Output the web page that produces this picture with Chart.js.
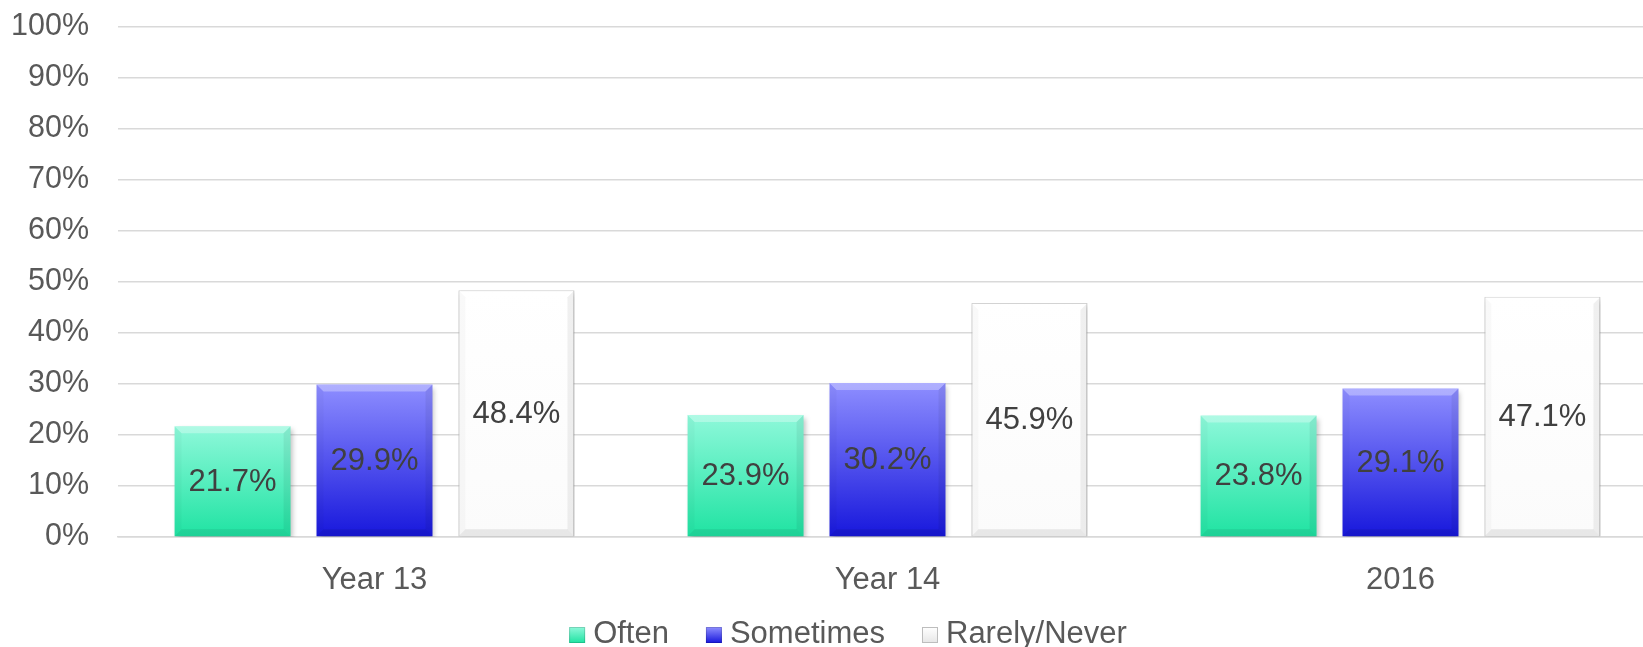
<!DOCTYPE html>
<html>
<head>
<meta charset="utf-8">
<script src="https://cdn.jsdelivr.net/npm/chart.js@4/dist/chart.umd.min.js"></script>
<style>
  html, body { margin: 0; padding: 0; background: #fff; overflow: hidden; }
  #wrap { width: 1643px; height: 647px; overflow: hidden; }
</style>
</head>
<body>
<div id="wrap"><canvas id="chart" width="1696" height="647"></canvas></div>
<script>
// data
var categories = ['Year 13', 'Year 14', '2016'];
var seriesNames = ['Often', 'Sometimes', 'Rarely/Never'];
var often = [21.7, 23.9, 23.8];
var sometimes = [29.9, 30.2, 29.1];
var rarely = [48.4, 45.9, 47.1];
var yMax = 100;
var yStep = 10;

var FONT = "'Liberation Sans', Arial, sans-serif";
var tickGrey = '#595959';
var labelGrey = '#404040';

// top / bottom colours of each series
var fills = [
    ['#8ef8da', '#1fe3a2'],
    ['#8e8eff', '#1717dc'],
    ['#ffffff', '#fbfbfb']
];

// gradient for one bar, from its top down to zero
function barGradient(idx) {
    return function (context) {
        var chart = context.chart;
        if (!chart.chartArea || context.type !== 'data') return fills[idx][1];
        var y = chart.scales.y;
        var y0 = y.getPixelForValue(0);
        var y1 = y.getPixelForValue(context.raw);
        var g = chart.ctx.createLinearGradient(0, y1, 0, y0);
        g.addColorStop(0, fills[idx][0]);
        g.addColorStop(1, fills[idx][1]);
        return g;
    };
}

// bevel, shadow and value labels
var bevelPlugin = {
    id: 'bevel',
    beforeDatasetsDraw: function (chart) {
        var ctx = chart.ctx;
        ctx.save();
        ctx.shadowColor = 'rgba(0,0,0,0.25)';
        ctx.shadowBlur = 5;
        ctx.shadowOffsetX = 2;
        ctx.shadowOffsetY = 3;
    },
    afterDatasetsDraw: function (chart) {
        var ctx = chart.ctx;
        ctx.restore();
        var b = 7;
        chart.data.datasets.forEach(function (ds, i) {
            chart.getDatasetMeta(i).data.forEach(function (bar, j) {
                var p = bar.getProps(['x', 'y', 'base', 'width'], true);
                var l = p.x - p.width / 2, r = p.x + p.width / 2, t = p.y, btm = p.base;
                function poly(pts, col) {
                    ctx.beginPath();
                    ctx.moveTo(pts[0][0], pts[0][1]);
                    for (var k = 1; k < pts.length; k++) ctx.lineTo(pts[k][0], pts[k][1]);
                    ctx.closePath();
                    ctx.fillStyle = col;
                    ctx.fill();
                }
                ctx.save();
                poly([[l, t], [r, t], [r - b, t + b], [l + b, t + b]], 'rgba(255,255,255,0.3)');
                poly([[l, btm], [r, btm], [r - b, btm - b], [l + b, btm - b]], 'rgba(0,0,0,0.08)');
                poly([[l, t], [l + b, t + b], [l + b, btm - b], [l, btm]], 'rgba(0,0,0,0.025)');
                poly([[r, t], [r - b, t + b], [r - b, btm - b], [r, btm]], 'rgba(0,0,0,0.06)');
                ctx.restore();

                ctx.save();
                ctx.font = '31px ' + FONT;
                ctx.fillStyle = labelGrey;
                ctx.textAlign = 'center';
                ctx.textBaseline = 'middle';
                ctx.fillText(ds.data[j].toFixed(1) + '%', p.x, (t + btm) / 2 + 1);
                ctx.restore();
            });
        });
    }
};

// legend under the axis
var legendPlugin = {
    id: 'bottomLegend',
    afterDraw: function (chart) {
        var ctx = chart.ctx;
        var box = 16, gapText = 8, gapItem = 37;
        ctx.save();
        ctx.font = '31px ' + FONT;
        var widths = seriesNames.map(function (n) { return ctx.measureText(n).width; });
        var total = 0;
        widths.forEach(function (w, i) { total += box + gapText + w + (i ? gapItem : 0); });
        var x = chart.width / 2 - total / 2;
        var baseline = 643;
        seriesNames.forEach(function (name, i) {
            var g = ctx.createLinearGradient(0, baseline - box, 0, baseline);
            g.addColorStop(0, fills[i][0]);
            g.addColorStop(1, i === 2 ? '#e6e6e6' : fills[i][1]);
            ctx.fillStyle = g;
            ctx.fillRect(x, baseline - box, box, box);
            ctx.strokeStyle = i === 2 ? '#bdbdbd' : 'rgba(0,0,0,0.15)';
            ctx.lineWidth = 1;
            ctx.strokeRect(x + 0.5, baseline - box + 0.5, box - 1, box - 1);
            ctx.fillStyle = tickGrey;
            ctx.textBaseline = 'alphabetic';
            ctx.textAlign = 'left';
            ctx.fillText(name, x + box + gapText, baseline);
            x += box + gapText + widths[i] + gapItem;
        });
        ctx.restore();
    }
};

var ctx = document.getElementById('chart').getContext('2d');
new Chart(ctx, {
    type: 'bar',
    data: {
        labels: categories,
        datasets: [
            { label: seriesNames[0], data: often, backgroundColor: barGradient(0) },
            { label: seriesNames[1], data: sometimes, backgroundColor: barGradient(1) },
            { label: seriesNames[2], data: rarely, backgroundColor: barGradient(2),
              borderColor: '#c4c4c4', borderWidth: 1 }
        ]
    },
    options: {
        responsive: false,
        animation: false,
        devicePixelRatio: 1,
        layout: { padding: { top: 27, right: 39, left: 0, bottom: 55 } },
        datasets: { bar: { categoryPercentage: 0.83, barPercentage: 0.817 } },
        plugins: {
            legend: { display: false },
            tooltip: { enabled: false }
        },
        scales: {
            x: {
                grid: { display: false },
                border: { display: true, color: '#d9d9d9', width: 1.5 },
                ticks: { color: tickGrey, font: { family: FONT, size: 31 }, padding: 17 },
                afterFit: function (s) { s.height = 55; }
            },
            y: {
                min: 0,
                max: yMax,
                grid: { color: '#d9d9d9', lineWidth: 1.5, drawTicks: false },
                border: { display: false },
                ticks: {
                    stepSize: yStep,
                    color: tickGrey,
                    padding: 29,
                    font: { family: FONT, size: 30.5 },
                    callback: function (v) { return v + '%'; }
                },
                afterFit: function (s) {
                    s.width = 118;
                    s.paddingTop = 0;
                    s.paddingBottom = 0;
                }
            }
        }
    },
    plugins: [bevelPlugin, legendPlugin]
});
</script>
</body>
</html>
